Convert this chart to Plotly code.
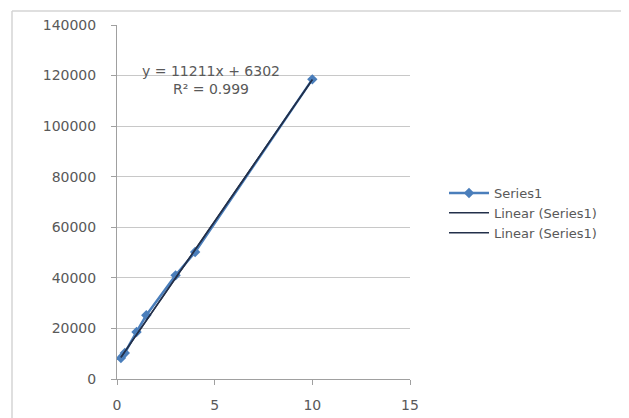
import plotly.graph_objects as go

# Data
x_vals = [0.2, 0.4, 1.0, 1.5, 3.0, 4.0, 10.0]
y_vals = [8300, 10300, 18600, 25200, 41000, 50200, 118500]
slope = 11211
intercept = 6302
r_squared = "0.999"
x_ticks = [0, 5, 10, 15]
y_ticks = [0, 20000, 40000, 60000, 80000, 100000, 120000, 140000]
y_tick_labels = [str(v) for v in y_ticks]

# page body has an 8px margin; offset the figure accordingly
OFF = 8
W, H = 629 - OFF, 418 - OFF
L, T = 117 - OFF, 25 - OFF
pw, ph = 293, 354
R, B = W - L - pw, H - T - ph

def px_to_paper_x(px):
    return (px - OFF - L) / pw

def px_to_paper_y(py):
    return (T + ph - (py - OFF)) / ph

text_col = "#595959"
font_family = "DejaVu Sans"

fig = go.Figure()

fig.add_trace(go.Scatter(
    x=x_vals, y=y_vals, mode="lines+markers", name="Series1",
    line=dict(color="#4A7EBB", width=2.5),
    marker=dict(symbol="diamond", size=8, color="#4A7EBB"),
))

trend_x = [min(x_vals), max(x_vals)]
trend_y = [slope * v + intercept for v in trend_x]
for _ in range(2):
    fig.add_trace(go.Scatter(
        x=trend_x, y=trend_y, mode="lines", name="Linear (Series1)",
        line=dict(color="#23304a", width=1.5),
    ))

fig.add_annotation(
    x=px_to_paper_x(211), y=px_to_paper_y(80), xref="paper", yref="paper",
    xanchor="center", yanchor="middle",
    text=f"y = {slope}x + {intercept}<br>R² = {r_squared}",
    showarrow=False, align="center",
    font=dict(family=font_family, size=14, color=text_col),
)

# chart-area border (top and left edges visible)
border = "#d4d4d4"
fig.add_shape(type="line", xref="paper", yref="paper",
              x0=px_to_paper_x(12), x1=px_to_paper_x(640),
              y0=px_to_paper_y(11), y1=px_to_paper_y(11),
              line=dict(color=border, width=1.5))
fig.add_shape(type="line", xref="paper", yref="paper",
              x0=px_to_paper_x(12), x1=px_to_paper_x(12),
              y0=px_to_paper_y(11), y1=px_to_paper_y(430),
              line=dict(color=border, width=1.5))

fig.update_layout(
    width=W, height=H,
    margin=dict(l=L, r=R, t=T, b=B, autoexpand=False),
    paper_bgcolor="white", plot_bgcolor="white",
    font=dict(family=font_family, size=14, color=text_col),
    showlegend=True,
    legend=dict(x=px_to_paper_x(444), y=px_to_paper_y(178), xanchor="left", yanchor="top",
                font=dict(family=font_family, size=13, color=text_col),
                tracegroupgap=0, itemwidth=40, bgcolor="rgba(0,0,0,0)"),
    xaxis=dict(range=[0, 15], tickvals=x_ticks, showgrid=False, zeroline=False,
               showline=True, linecolor="#a0a0a0", linewidth=1,
               ticks="outside", ticklen=5, tickcolor="#a0a0a0",
               ticklabelstandoff=8, fixedrange=True, automargin=False),
    yaxis=dict(range=[0, 140000], tickvals=y_ticks, ticktext=y_tick_labels,
               showgrid=True, gridcolor="#c8c8c8",
               gridwidth=1, zeroline=False, showline=True, linecolor="#a0a0a0", linewidth=1,
               ticks="outside", ticklen=5, tickcolor="#a0a0a0",
               ticklabelstandoff=12, fixedrange=True, automargin=False),
)

fig.write_html("out.html")
